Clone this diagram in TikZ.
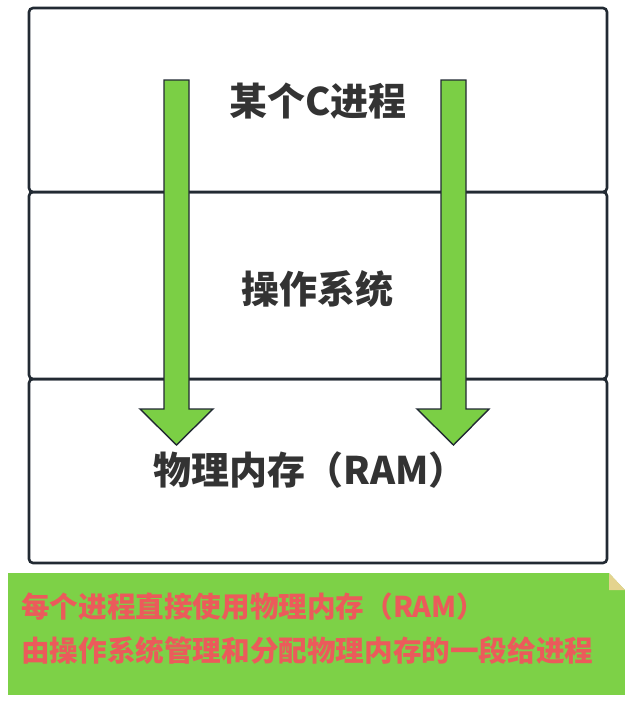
\documentclass[tikz,border=0pt]{standalone}
\usepackage{fontspec}
\newfontfamily\cjk{Noto Sans CJK SC}
\definecolor{edgec}{HTML}{222A33}
\definecolor{arrowgreen}{HTML}{7BCF45}
\definecolor{notegreen}{HTML}{7DD147}
\definecolor{notered}{HTML}{EB5B5B}
\definecolor{foldtan}{HTML}{E4D38E}
\definecolor{textgray}{HTML}{333333}
\tikzset{
  layer/.style={draw=edgec, line width=2.6pt, rounded corners=4pt, fill=white,
    minimum width=578pt, inner sep=0pt, font=\cjk\bfseries\fontsize{38}{42}\selectfont, text=textgray},
  bigarrow/.style={draw=edgec, line width=1.4pt, fill=arrowgreen, line join=miter},
  notetext/.style={font=\cjk\bfseries\fontsize{28.6}{32}\selectfont, text=notered, anchor=west, inner sep=0pt},
}
\begin{document}
\begin{tikzpicture}[x=1pt,y=-1pt]
\useasboundingbox (0,0) rectangle (633,707);
\node (ram) [layer, minimum height=184pt] at (318,471) {};
\node (os) [layer, minimum height=187pt] at (318,285.5) {};
\node (proc) [layer, minimum height=184pt] at (318,100) {};
\node (proclabel) [layer, draw=none, fill=none, minimum width=0pt] at (318,101) {某个C进程};
\node (oslabel) [layer, draw=none, fill=none, minimum width=0pt] at (317,289) {操作系统};
\node (ramlabel) [layer, draw=none, fill=none, minimum width=0pt] at (310,470) {物理内存（RAM）};
% arrows
\draw[bigarrow] (164,80) -- (189,80) -- (189,409) -- (213,409) -- (176.5,445) -- (140,409) -- (164,409) -- cycle;
\draw[bigarrow] (441,80) -- (466,80) -- (466,409) -- (489,409) -- (453.5,445) -- (417,409) -- (441,409) -- cycle;
% note
\node (note) [fill=notegreen, minimum width=617pt, minimum height=122pt, inner sep=0pt, anchor=north west] at (8,573) {};
\fill[white] (609,573) -- (625,573) -- (625,590) -- cycle;
\fill[foldtan] (609,573) -- (609,590) -- (625,590) -- cycle;
\node (line1) [notetext] at (21,607) {每个进程直接使用物理内存（RAM）};
\node (line2) [notetext] at (21,651) {由操作系统管理和分配物理内存的一段给进程};
\end{tikzpicture}
\end{document}
